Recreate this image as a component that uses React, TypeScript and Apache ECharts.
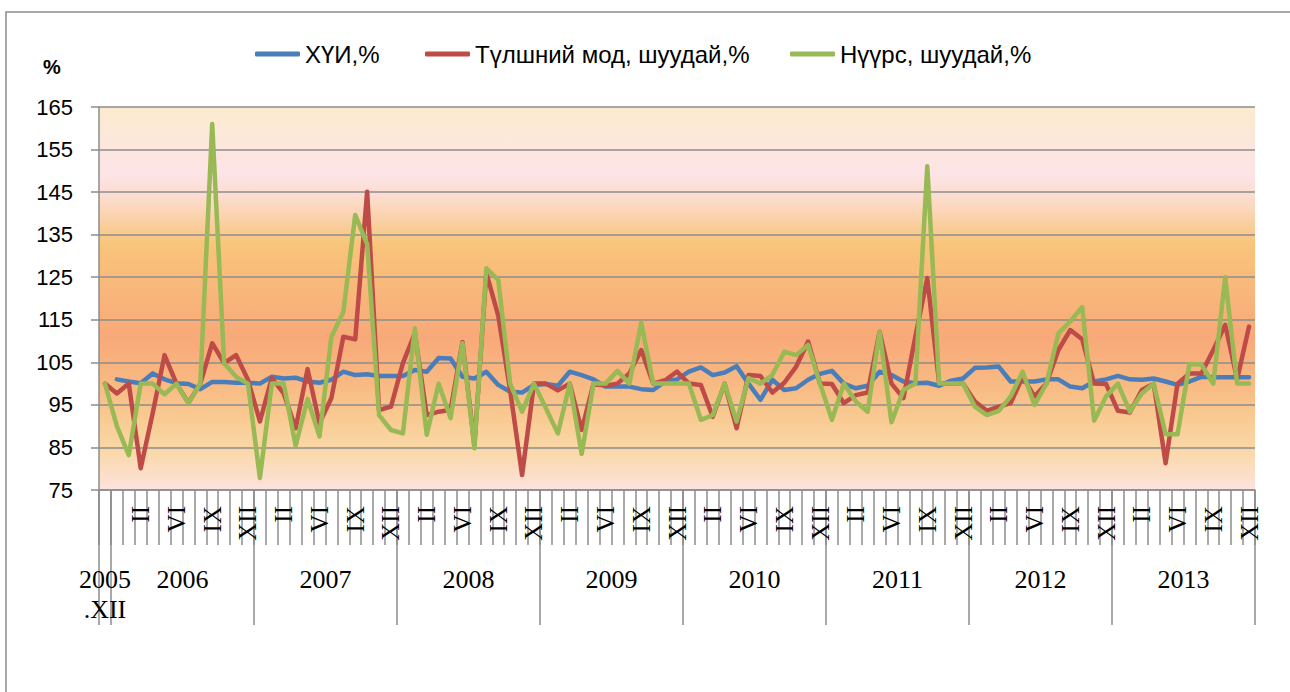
import React, { useEffect, useRef } from "react";
import * as echarts from "echarts";

const romanMonths = ["I", "II", "III", "IV", "V", "VI", "VII", "VIII", "IX", "X", "XI", "XII"];
const years = [2006, 2007, 2008, 2009, 2010, 2011, 2012, 2013];
const categories = ["2005.XII", ...years.flatMap((y) => romanMonths.map((m) => `${y}.${m}`))];

// month labels as printed under each year (Jan..Dec)
const monthTickLabels = ["", "", "II", "", "", "VI", "", "", "IX", "", "", "XII"];

const yearBoundaries = [0, 1, 13, 25, 37, 49, 61, 73, 85, 97];
const yearLabelPositions = [0.5, 7, 19, 31, 43, 55, 67, 79, 91];
const yearLabels = ["2005\n.XII", "2006", "2007", "2008", "2009", "2010", "2011", "2012", "2013"];

const seriesNames = ["ХҮИ,%", "Түлшний мод, шуудай,%", "Нүүрс, шуудай,%"];

const cpi = [
  null,
  101, 100.5, 100.1, 102.4, 101, 100.1, 99.9, 98.7, 100.4, 100.4, 100.2, 100.2,
  100, 101.6, 101.2, 101.4, 100.5, 100.2, 100.9, 102.8, 102, 102.2, 101.8, 101.8,
  101.8, 103.2, 102.8, 106, 105.9, 101.6, 101.2, 102.8, 99.7, 98.1, 97.9, 99.7,
  99.9, 99.5, 102.8, 102, 101, 99.3, 99.3, 99.3, 98.7, 98.5, 100.5, 101,
  102.8, 103.8, 102, 102.6, 104.1, 100, 96.2, 100.9, 98.5, 98.9, 100.9, 102.3,
  103, 100, 98.9, 99.5, 102.8, 102, 100.5, 100.1, 100.2, 99.5, 100.7, 101.2,
  103.7, 103.8, 104, 100.5, 100.5, 100.5, 101, 101, 99.3, 98.9, 100.5, 101,
  101.8, 101, 100.9, 101.2, 100.5, 99.7, 100.5, 101.6, 101.5, 101.5, 101.5, 101.5,
];

const firewood = [
  100,
  97.7, 100, 80.1, 93, 106.7, 100, 95.5, 100, 109.5, 104.8, 106.7, 100.9,
  91.1, 101.3, 97.7, 89.5, 103.4, 90.7, 96.6, 111, 110.4, 145.1, 93.8, 94.6,
  104.8, 111.8, 92.6, 93.4, 93.8, 109.8, 85.6, 126, 116, 98.4, 78.5, 100,
  100, 98.4, 100, 89.1, 100, 99.5, 100, 102.4, 107.9, 100, 100.8, 102.8,
  100, 99.7, 92.2, 100, 89.5, 102, 101.8, 97.9, 100.2, 104, 109.9, 100,
  99.9, 95.4, 97.3, 97.9, 112.2, 100, 96.6, 111, 124.8, 100, 100, 100,
  95.8, 93.6, 94.6, 95.4, 101.6, 97, 100, 107.9, 112.6, 110.4, 100, 99.9,
  93.6, 93.2, 98.5, 100, 81.3, 100, 102.4, 102.4, 107.9, 113.8, 101, 113.4,
];

const coal = [
  100,
  90, 83.2, 100, 100, 97.5, 100, 95.4, 100, 161, 104.8, 101.6, 100,
  77.8, 100, 100, 85.4, 96.4, 87.6, 111, 116.8, 139.6, 132.8, 92.6, 89.1,
  88.3, 113, 88, 100, 91.9, 109.5, 84.8, 127.1, 124.4, 100, 93.4, 100,
  94.2, 88.3, 100, 83.5, 100, 100, 103, 100, 114.3, 100, 100, 100,
  100, 91.5, 92.6, 100, 91.1, 101.3, 100, 102, 107.5, 106.7, 109.1, 100,
  91.5, 100, 95.8, 93.4, 112.2, 90.9, 98.5, 100, 151.1, 100, 100, 100,
  94.6, 92.6, 93.6, 97, 102.8, 95, 100, 111.8, 114.6, 118, 91.3, 97,
  100, 93.4, 97.7, 100, 88.1, 88.1, 104.6, 104.5, 100, 125, 100, 100,
];

const colors = ["#4A7EBB", "#BE4B48", "#98B954"];
const gray = "#8C8C8C";

export default function App() {
  const ref = useRef<HTMLDivElement>(null);

  useEffect(() => {
    if (!ref.current) return;
    const chart = echarts.init(ref.current, null, { renderer: "svg" });
    const sans = "'Liberation Sans', Arial, sans-serif";
    const serif = "'Liberation Serif', 'Times New Roman', serif";

    const legendBase = {
      top: 37,
      itemWidth: 45,
      itemHeight: 5,
      icon: "roundRect",
      itemGap: 5,
      textStyle: { fontFamily: sans, fontSize: 24, color: "#000" },
    };

    chart.setOption({
      animation: false,
      backgroundColor: "#fff",
      color: colors,
      legend: [
        { ...legendBase, left: 250, data: [seriesNames[0]] },
        { ...legendBase, left: 420, data: [seriesNames[1]] },
        { ...legendBase, left: 785, data: [seriesNames[2]] },
      ],
      graphic: [
        {
          type: "rect",
          shape: { x: 6, y: 12, width: 1400, height: 800 },
          style: { fill: "none", stroke: gray, lineWidth: 1.5 },
          silent: true,
        },
        {
          type: "text",
          x: 43,
          y: 57,
          style: { text: "%", font: `bold 20px ${sans}`, fill: "#000" },
        },
      ],
      grid: {
        left: 99,
        top: 107,
        width: 1156,
        height: 383,
        show: true,
        borderWidth: 0,
        backgroundColor: new echarts.graphic.LinearGradient(0, 0, 0, 1, [
          { offset: 0, color: "#FBEBCE" },
          { offset: 0.17, color: "#FDE4E7" },
          { offset: 0.23, color: "#FCDDD2" },
          { offset: 0.36, color: "#F8C47A" },
          { offset: 0.5, color: "#F8B57B" },
          { offset: 0.6, color: "#F8A979" },
          { offset: 0.72, color: "#F8B982" },
          { offset: 0.82, color: "#F9CC94" },
          { offset: 0.9, color: "#FAD8AA" },
          { offset: 1, color: "#FCE3DD" },
        ]),
      },
      xAxis: [
        {
          type: "category",
          data: categories,
          position: "bottom",
          boundaryGap: true,
          axisLine: { show: true, lineStyle: { color: gray, width: 1.5 } },
          axisTick: { show: true, interval: 0, length: 55, lineStyle: { color: gray, width: 1.5 } },
          axisLabel: {
            interval: 0,
            rotate: 90,
            margin: 16,
            fontFamily: serif,
            fontSize: 25,
            color: "#000",
            formatter: (_v: string, idx: number) => (idx === 0 ? "" : monthTickLabels[(idx - 1) % 12]),
          },
          splitLine: { show: false },
        },
        {
          type: "value",
          position: "bottom",
          min: 0,
          max: 97,
          axisLine: { show: false },
          splitLine: { show: false },
          axisTick: {
            show: true,
            customValues: yearBoundaries,
            length: 135,
            lineStyle: { color: gray, width: 1.5 },
          },
          axisLabel: {
            show: true,
            customValues: yearLabelPositions,
            margin: 74,
            fontFamily: serif,
            fontSize: 26,
            lineHeight: 30,
            color: "#000",
            formatter: (v: number) => {
              let best = 0;
              yearLabelPositions.forEach((p, i) => {
                if (Math.abs(p - v) < Math.abs(yearLabelPositions[best] - v)) best = i;
              });
              return yearLabels[best];
            },
          },
        },
      ],
      yAxis: {
        type: "value",
        min: 75,
        max: 165,
        interval: 10,
        axisLine: { show: true, lineStyle: { color: gray, width: 1.5 } },
        axisTick: { show: true, length: 8, lineStyle: { color: gray, width: 1.5 } },
        axisLabel: { margin: 26, fontFamily: sans, fontSize: 22, color: "#000" },
        splitLine: { show: true, lineStyle: { color: gray, width: 1.5 } },
      },
      series: [
        { name: seriesNames[0], type: "line", data: cpi, xAxisIndex: 0 },
        { name: seriesNames[1], type: "line", data: firewood, xAxisIndex: 0 },
        { name: seriesNames[2], type: "line", data: coal, xAxisIndex: 0 },
      ].map((s, i) => ({
        ...s,
        symbol: "none",
        connectNulls: false,
        lineStyle: { width: 4.5, color: colors[i], join: "round", cap: "round" },
        itemStyle: { color: colors[i] },
        z: 2 + i,
      })),
    });

    return () => chart.dispose();
  }, []);

  return (
    <div
      ref={ref}
      style={{ position: "absolute", left: 0, top: 0, width: 1290, height: 692, background: "#fff" }}
    />
  );
}
